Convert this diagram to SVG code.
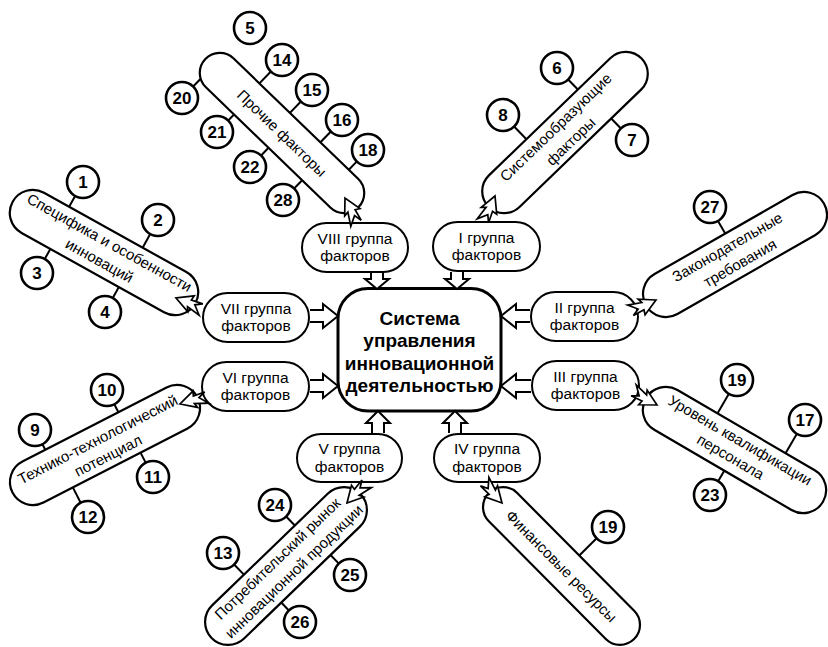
<svg xmlns="http://www.w3.org/2000/svg" xmlns:xlink="http://www.w3.org/1999/xlink" width="828" height="647" viewBox="0 0 828 647">
<style>
.pill{fill:#fff;stroke:#000;stroke-width:2.2}
.grp{fill:#fff;stroke:#000;stroke-width:2}
.ctr{fill:#fff;stroke:#000;stroke-width:3}
.nc{fill:#fff;stroke:#000;stroke-width:2.6}
.lnk{stroke:#000;stroke-width:2;fill:none}
.blk{fill:#fff;stroke:#000;stroke-width:2;stroke-linejoin:miter}
.bolt{fill:#fff;stroke:#000;stroke-width:1.7;stroke-linejoin:miter}
text{font-family:"Liberation Sans",Arial,sans-serif;text-anchor:middle;fill:#000}
.t{font-size:15px}
.g{font-size:15.5px}
.n{font-size:17px;font-weight:bold}
.c{font-size:19px;font-weight:bold}
</style>
<defs>
<path id="bolt" class="bolt" d="M0,0 L-16,-8 L-14,-3.5 L-28,-7 L-20,1 L-27,5 L-15,4 L-16,9 Z"/>
</defs>
<rect width="828" height="647" fill="#fff"/>

<!-- factor pills -->
<g id="pill-other" transform="translate(282,133) rotate(44)">
<rect class="pill" x="-106.5" y="-20" width="213" height="40" rx="20"/>
<text class="t" y="5.5">Прочие факторы</text>
</g>
<g id="pill-system" transform="translate(565,132.5) rotate(-44)">
<rect class="pill" x="-106.5" y="-22" width="213" height="44" rx="22"/>
<text class="t" x="-3" y="-5">Системообразующие</text>
<text class="t" x="-2" y="15.5">факторы</text>
</g>
<g id="pill-specific" transform="translate(104,252.5) rotate(29.1)">
<rect class="pill" x="-104.5" y="-23" width="209" height="46" rx="23"/>
<text class="t" y="-6">Специфика и особенности</text>
<text class="t" y="14.5">инноваций</text>
</g>
<g id="pill-tech" transform="translate(105,445) rotate(-27.2)">
<rect class="pill" x="-104" y="-23" width="208" height="46" rx="23"/>
<text class="t" x="-4" y="-3">Технико-технологический</text>
<text class="t" x="-2" y="16">потенциал</text>
</g>
<g id="pill-law" transform="translate(735,254.5) rotate(-29.8)">
<rect class="pill" x="-102.5" y="-23" width="205" height="46" rx="23"/>
<text class="t" x="-3" y="-5">Законодательные</text>
<text class="t" y="15">требования</text>
</g>
<g id="pill-staff" transform="translate(734.5,450) rotate(30.3)">
<rect class="pill" x="-102.5" y="-23" width="205" height="46" rx="23"/>
<text class="t" y="-6">Уровень квалификации</text>
<text class="t" y="13">персонала</text>
</g>
<g id="pill-finance" transform="translate(561.5,566) rotate(45.2)">
<rect class="pill" x="-103" y="-20" width="206" height="40" rx="20"/>
<text class="t" y="5.5">Финансовые ресурсы</text>
</g>
<g id="pill-market" transform="translate(286,566) rotate(-44)">
<rect class="pill" x="-103.5" y="-23" width="207" height="46" rx="23"/>
<text class="t" x="-1" y="-6">Потребительский рынок</text>
<text class="t" x="2" y="14.5">инновационной продукции</text>
</g>

<!-- numbered factors -->
<g id="n5"><circle class="nc" cx="250" cy="28" r="16"/><text class="n" x="250" y="34">5</text></g>
<g id="n14"><circle class="nc" cx="282" cy="60" r="16"/><text class="n" x="282" y="66">14</text></g>
<g id="n15"><circle class="nc" cx="312" cy="90" r="16"/><text class="n" x="312" y="96">15</text></g>
<g id="n16"><circle class="nc" cx="342" cy="120" r="16"/><text class="n" x="342" y="126">16</text></g>
<g id="n18"><circle class="nc" cx="368" cy="150" r="16"/><text class="n" x="368" y="156">18</text></g>
<g id="n20"><circle class="nc" cx="182" cy="98" r="16"/><text class="n" x="182" y="104">20</text></g>
<g id="n21"><circle class="nc" cx="217" cy="132" r="16"/><text class="n" x="217" y="138">21</text></g>
<g id="n22"><circle class="nc" cx="250" cy="167" r="16"/><text class="n" x="250" y="173">22</text></g>
<g id="n28"><circle class="nc" cx="283" cy="200" r="16"/><text class="n" x="283" y="206">28</text></g>
<g id="n6"><circle class="nc" cx="557" cy="68" r="16"/><text class="n" x="557" y="74">6</text></g>
<g id="n8"><circle class="nc" cx="503" cy="115" r="16"/><text class="n" x="503" y="121">8</text></g>
<g id="n7"><circle class="nc" cx="632" cy="140" r="16"/><text class="n" x="632" y="146">7</text></g>
<g id="n1"><circle class="nc" cx="83" cy="182" r="16"/><text class="n" x="83" y="188">1</text></g>
<g id="n2"><circle class="nc" cx="158" cy="220" r="16"/><text class="n" x="158" y="226">2</text></g>
<g id="n3"><circle class="nc" cx="37" cy="273" r="16"/><text class="n" x="37" y="279">3</text></g>
<g id="n4"><circle class="nc" cx="105" cy="312" r="16"/><text class="n" x="105" y="318">4</text></g>
<g id="n10"><circle class="nc" cx="107" cy="390" r="16"/><text class="n" x="107" y="396">10</text></g>
<g id="n9"><circle class="nc" cx="35" cy="430" r="16"/><text class="n" x="35" y="436">9</text></g>
<g id="n11"><circle class="nc" cx="153" cy="477" r="16"/><text class="n" x="153" y="483">11</text></g>
<g id="n12"><circle class="nc" cx="88" cy="517" r="16"/><text class="n" x="88" y="523">12</text></g>
<g id="n27"><circle class="nc" cx="710" cy="207" r="16"/><text class="n" x="710" y="213">27</text></g>
<g id="n19a"><circle class="nc" cx="737" cy="380" r="16"/><text class="n" x="737" y="386">19</text></g>
<g id="n17"><circle class="nc" cx="805" cy="420" r="16"/><text class="n" x="805" y="426">17</text></g>
<g id="n23"><circle class="nc" cx="710" cy="495" r="16"/><text class="n" x="710" y="501">23</text></g>
<g id="n19b"><circle class="nc" cx="608" cy="527" r="16"/><text class="n" x="608" y="533">19</text></g>
<g id="n24"><circle class="nc" cx="275" cy="505" r="16"/><text class="n" x="275" y="511">24</text></g>
<g id="n13"><circle class="nc" cx="223" cy="553" r="16"/><text class="n" x="223" y="559">13</text></g>
<g id="n25"><circle class="nc" cx="350" cy="575" r="16"/><text class="n" x="350" y="581">25</text></g>
<g id="n26"><circle class="nc" cx="300" cy="622" r="16"/><text class="n" x="300" y="628">26</text></g>

<!-- group boxes -->
<g id="g8"><rect class="grp" x="302" y="223" width="106" height="49" rx="24.5"/><text class="g" x="355" y="243.5">VIII группа</text><text class="g" x="355" y="261">факторов</text></g>
<g id="g1"><rect class="grp" x="433" y="222" width="107" height="49" rx="24.5"/><text class="g" x="486.5" y="242.5">I группа</text><text class="g" x="486.5" y="260">факторов</text></g>
<g id="g7"><rect class="grp" x="203" y="293" width="106" height="49" rx="24.5"/><text class="g" x="256" y="313.5">VII группа</text><text class="g" x="256" y="331">факторов</text></g>
<g id="g2"><rect class="grp" x="531" y="292" width="107" height="49" rx="24.5"/><text class="g" x="584.5" y="312.5">II группа</text><text class="g" x="584.5" y="330">факторов</text></g>
<g id="g6"><rect class="grp" x="202" y="362" width="107" height="49" rx="24.5"/><text class="g" x="255.5" y="382.5">VI группа</text><text class="g" x="255.5" y="400">факторов</text></g>
<g id="g3"><rect class="grp" x="532" y="361" width="107" height="49" rx="24.5"/><text class="g" x="585.5" y="381.5">III группа</text><text class="g" x="585.5" y="399">факторов</text></g>
<g id="g5"><rect class="grp" x="297" y="434" width="105" height="48" rx="24"/><text class="g" x="349.5" y="454">V группа</text><text class="g" x="349.5" y="471.5">факторов</text></g>
<g id="g4"><rect class="grp" x="434" y="434" width="106" height="48" rx="24"/><text class="g" x="487" y="454">IV группа</text><text class="g" x="487" y="471.5">факторов</text></g>

<!-- central node -->
<g id="center">
<rect class="ctr" x="338" y="288.5" width="163" height="122.5" rx="30"/>
<text class="c" x="419.5" y="324.5">Система</text>
<text class="c" x="419.5" y="347">управления</text>
<text class="c" x="419.5" y="369.5">инновационной</text>
<text class="c" x="419.5" y="392">деятельностью</text>
</g>

<!-- connectors -->
<g id="connectors">
<g transform="translate(282,133) rotate(44)">
<line class="lnk" x1="-50.7" y1="-20" x2="-50.7" y2="-36.5"/>
<line class="lnk" x1="-8.3" y1="-20" x2="-8.3" y2="-35.8"/>
<line class="lnk" x1="34.1" y1="-20" x2="34.1" y2="-35.1"/>
<line class="lnk" x1="73.6" y1="-20" x2="73.6" y2="-31.6"/>
<line class="lnk" x1="-96.2" y1="17.5" x2="-96.2" y2="28.3"/>
<line class="lnk" x1="-47.4" y1="20" x2="-47.4" y2="28.5"/>
<line class="lnk" x1="0.6" y1="20" x2="0.6" y2="30.7"/>
<line class="lnk" x1="47.3" y1="20" x2="47.3" y2="31.5"/>
</g>
<g transform="translate(565,132.5) rotate(-44)">
<line class="lnk" x1="39.1" y1="-22" x2="39.1" y2="-36"/>
<line class="lnk" x1="-32.4" y1="-22" x2="-32.4" y2="-39.7"/>
<line class="lnk" x1="43" y1="22" x2="43" y2="36"/>
</g>
<g transform="translate(104,252.5) rotate(29.1)">
<line class="lnk" x1="-52.7" y1="-23" x2="-52.7" y2="-35.4"/>
<line class="lnk" x1="31.4" y1="-23" x2="31.4" y2="-38.6"/>
<line class="lnk" x1="-48.6" y1="23" x2="-48.6" y2="34.5"/>
<line class="lnk" x1="29.8" y1="23" x2="29.8" y2="35.5"/>
</g>
<g transform="translate(105,445) rotate(-27.2)">
<line class="lnk" x1="26.9" y1="-23" x2="26.9" y2="-32"/>
<line class="lnk" x1="-55.3" y1="-23" x2="-55.3" y2="-29.3"/>
<line class="lnk" x1="28.1" y1="23" x2="28.1" y2="34.3"/>
<line class="lnk" x1="-48" y1="23" x2="-48" y2="40.2"/>
</g>
<g transform="translate(735,254.5) rotate(-29.8)">
<line class="lnk" x1="1.9" y1="-23" x2="1.9" y2="-37.6"/>
</g>
<g transform="translate(734.5,450) rotate(30.3)">
<line class="lnk" x1="-33.2" y1="-23" x2="-33.2" y2="-45.7"/>
<line class="lnk" x1="45.7" y1="-23" x2="45.7" y2="-45.5"/>
<line class="lnk" x1="1.6" y1="23" x2="1.6" y2="35.2"/>
</g>
<g transform="translate(561.5,566) rotate(45.2)">
<line class="lnk" x1="5.1" y1="-20" x2="5.1" y2="-44.5"/>
</g>
<g transform="translate(286,566) rotate(-44)">
<line class="lnk" x1="34.5" y1="-23" x2="34.5" y2="-35.5"/>
<line class="lnk" x1="-36.3" y1="-23" x2="-36.3" y2="-37.1"/>
<line class="lnk" x1="39.7" y1="23" x2="39.7" y2="35"/>
<line class="lnk" x1="-28.8" y1="23" x2="-28.8" y2="34"/>
</g>
<!-- block arrows into the centre -->
<path class="blk" d="M371,273 V279 H365 L377,289 L389,279 H383 V273"/>
<path class="blk" d="M451,272 V279 H445 L457,289 L469,279 H463 V272"/>
<path class="blk" d="M310,310 H323 V304 L338,316 L323,328 V322 H310"/>
<path class="blk" d="M310,380 H323 V374 L338,386 L323,398 V392 H310"/>
<path class="blk" d="M530,310 H516 V304 L501,316 L516,328 V322 H530"/>
<path class="blk" d="M531,380 H516 V374 L501,386 L516,398 V392 H531"/>
<path class="blk" d="M372,433 V423 H366 L378,411 L390,423 H384 V433"/>
<path class="blk" d="M449,433 V423 H443 L455,411 L467,423 H461 V433"/>
<!-- lightning arrows to factor pills -->
<use xlink:href="#bolt" transform="translate(345,198) rotate(-115.6)"/>
<use xlink:href="#bolt" transform="translate(495,196) rotate(-66)"/>
<use xlink:href="#bolt" transform="translate(176,298) rotate(-157.2)"/>
<use xlink:href="#bolt" transform="translate(180,404) rotate(164.4)"/>
<use xlink:href="#bolt" transform="translate(656,300) rotate(-24.1)"/>
<use xlink:href="#bolt" transform="translate(657,405) rotate(30)"/>
<use xlink:href="#bolt" transform="translate(502,503) rotate(49)"/>
<use xlink:href="#bolt" transform="translate(347,503) rotate(133.6)"/>
</g>
</svg>
